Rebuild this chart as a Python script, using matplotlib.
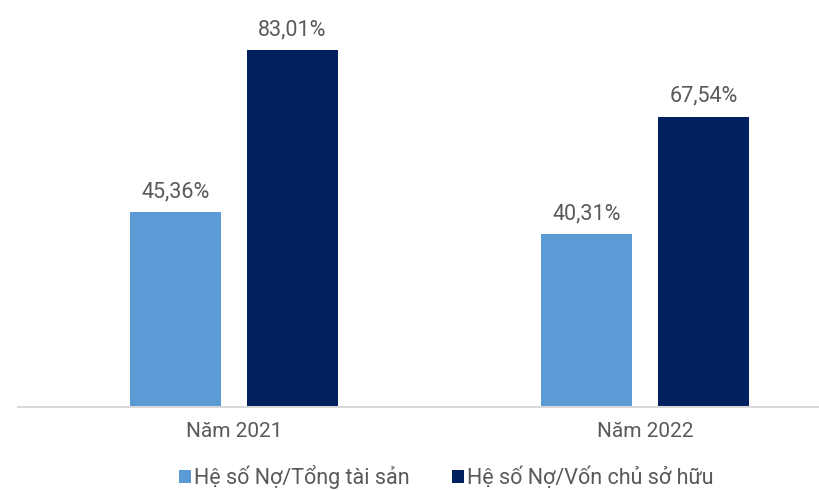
import matplotlib.pyplot as plt
import numpy as np

plt.rcParams['font.family'] = ['Roboto', 'DejaVu Sans']

years = ["Năm 2021", "Năm 2022"]
no_tong_ts = [45.36, 40.31]
no_von_csh = [83.01, 67.54]
series_names = ["Hệ số Nợ/Tổng tài sản", "Hệ số Nợ/Vốn chủ sở hữu"]

c_light = "#5B9BD5"
c_dark = "#012060"
txt = "#595959"

fig = plt.figure(figsize=(8.2, 4.9), dpi=100)
ax = fig.add_axes([18 / 820, 83 / 490, 802 / 820, 387 / 490])

x = np.arange(len(years))
w = 0.221
off = 0.142
b1 = ax.bar(x - off, no_tong_ts, w, color=c_light, label=series_names[0])
b2 = ax.bar(x + off, no_von_csh, w, color=c_dark, label=series_names[1])

for bars, vals in ((b1, no_tong_ts), (b2, no_von_csh)):
    for r, v in zip(bars, vals):
        ax.annotate(f"{v:.2f}%".replace(".", ","),
                    (r.get_x() + r.get_width() / 2, v),
                    xytext=(0, 7), textcoords="offset points",
                    ha="center", va="bottom", fontsize=15.5, color=txt)

ax.set_xlim(-0.526, 1.426)
ax.set_ylim(0, 90)
ax.set_xticks(x)
ax.set_xticklabels(years, fontsize=15, color=txt)
ax.tick_params(axis="x", length=0, pad=11)
ax.set_yticks([])
for s in ("top", "right", "left"):
    ax.spines[s].set_visible(False)
ax.spines["bottom"].set_color("#D9D9D9")
ax.spines["bottom"].set_linewidth(1.5)

fig.legend(loc="center", bbox_to_anchor=(446 / 820, 13 / 490), ncol=2,
           frameon=False, fontsize=15.5, labelcolor=txt,
           handlelength=0.56, handleheight=0.56, handletextpad=0.15,
           columnspacing=1.95, borderpad=0)

fig.savefig("out.png", dpi=100)
